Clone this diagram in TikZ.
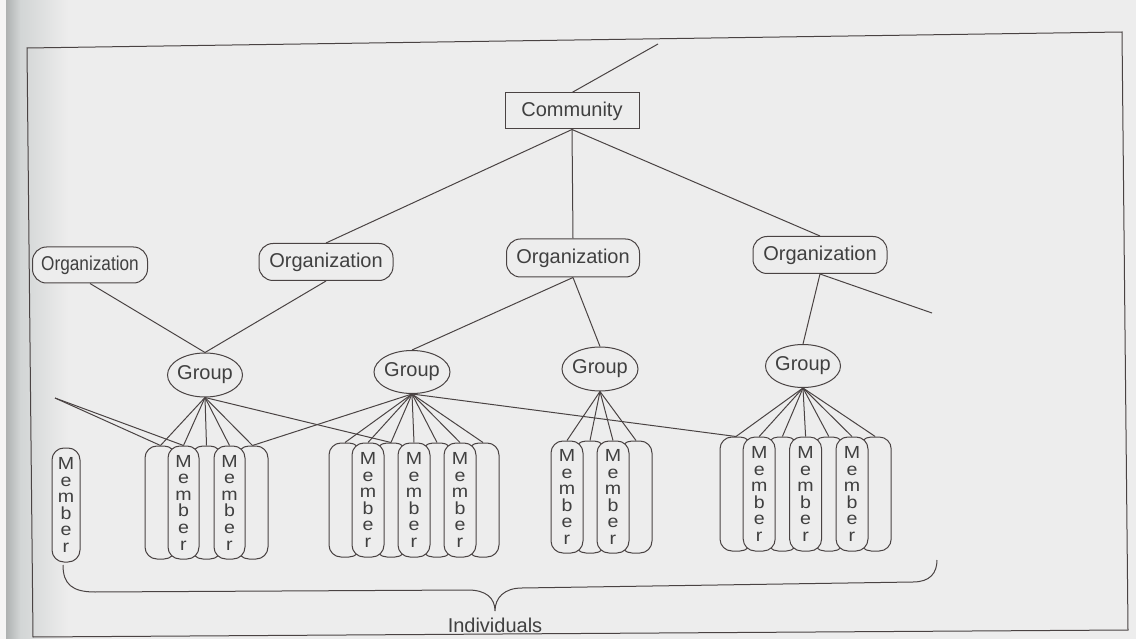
\documentclass[tikz,border=0pt]{standalone}
\usepackage{fontspec}
\setmainfont{Liberation Sans}
\usepackage{graphicx}
\usetikzlibrary{shapes.geometric}
\definecolor{paper}{HTML}{EDEDED}
\definecolor{paperedge}{HTML}{F5F5F5}
\definecolor{gutter}{HTML}{AEB2B2}
\definecolor{gutterb}{HTML}{D2D5D5}
\definecolor{ink}{HTML}{4A4343}
\definecolor{txt}{HTML}{404040}
\pgfdeclarelayer{paperlayer}
\pgfdeclarelayer{background}
\pgfsetlayers{paperlayer,background,main}
% letters of a member box, slightly widened, stacked one per line
\newcommand\wl[1]{\scalebox{1.12}[1]{#1}}
\newcommand\mbrtext{\wl{M}\\\wl{e}\\\wl{m}\\\wl{b}\\\wl{e}\\\wl{r}}
\begin{document}
\begin{tikzpicture}[x=1pt,y=-1pt,
  every node/.style={text=txt},
  conn/.style={draw=ink, line width=1pt},
  labelfont/.style={font=\fontsize{20}{24}\selectfont},
  commbox/.style={draw=ink, line width=1pt, fill=paper, minimum width=134pt,
    minimum height=36pt, inner sep=0pt, labelfont},
  orgbox/.style={draw=ink, line width=1pt, fill=paper, rounded corners=14pt,
    minimum width=134pt, minimum height=37pt, inner sep=0pt, labelfont},
  groupell/.style={ellipse, draw=ink, line width=1pt, fill=paper,
    minimum width=75pt, minimum height=44pt, inner sep=0pt, labelfont},
  memberbox/.style={draw=ink, line width=1pt, fill=paper, rounded corners=12pt,
    minimum width=32pt, minimum height=113pt, inner sep=0pt, align=center,
    font=\fontsize{17.5}{16.6}\selectfont},
]
% paper and gutter shadow
\begin{pgfonlayer}{paperlayer}
  \fill[paper] (0,0) rectangle (1136,639);
  \fill[paperedge] (0,0) rectangle (6,639);
  \shade[left color=gutter, right color=gutterb] (6,0) rectangle (20,639);
  \shade[left color=gutterb, right color=paper] (20,0) rectangle (68,639);
  \draw[ink, line width=1pt] (27,48) -- (1122,32) -- (1128,630) -- (33,637) -- cycle;
\end{pgfonlayer}

% community and organizations
\node[commbox] (comm) at (572,111) {Community};
\node[orgbox, minimum width=115pt, minimum height=36pt] (org1) at (90,265) {\scalebox{0.86}[1]{Organization}};
\node[orgbox] (org2) at (326,262) {Organization};
\node[orgbox, minimum width=133pt, minimum height=38pt] (org3) at (573,258) {Organization};
\node[orgbox] (org4) at (820,255) {Organization};

% groups
\node[groupell] (g1) at (205,375) {\makebox[0pt]{Group}};
\node[groupell, minimum width=76pt, minimum height=43pt] (g2) at (412,372) {\makebox[0pt]{Group}};
\node[groupell, minimum width=76pt] (g3) at (600,369) {\makebox[0pt]{Group}};
\node[groupell, minimum height=43pt] (g4) at (803,366) {\makebox[0pt]{Group}};

% free ends
\coordinate (upper) at (658,44);
\coordinate (orgout) at (932,313);
\coordinate (leftin) at (55,398);

% lone member
\node[memberbox, minimum width=28pt, minimum height=114pt] (s0) at (66,505) {\mbrtext};

% member clusters: plain boxes behind, lettered boxes in front
\foreach \k in {0,2,4}
  \node[memberbox, minimum width=31pt] (a\k) at ({160.5+23*\k},502.5) {};
\foreach \k in {1,3}
  \node[memberbox, minimum width=31pt] (a\k) at ({160.5+23*\k},502.5) {\mbrtext};

\foreach \k in {0,2,4,6}
  \node[memberbox, minimum height=114pt] (b\k) at ({345+23*\k},500) {};
\foreach \k in {1,3,5}
  \node[memberbox, minimum height=114pt] (b\k) at ({345+23*\k},500) {\mbrtext};

\foreach \k in {1,3}
  \node[memberbox, minimum height=112pt] (c\k) at ({567+23*\k},497) {};
\foreach \k in {0,2}
  \node[memberbox, minimum height=112pt] (c\k) at ({567+23*\k},497) {\mbrtext};

\foreach \k in {0,2,4,6}
  \node[memberbox, minimum height=114pt] (d\k) at ({736+23.2*\k},494) {};
\foreach \k in {1,3,5}
  \node[memberbox, minimum height=114pt] (d\k) at ({736+23.2*\k},494) {\mbrtext};

% connectors
\begin{pgfonlayer}{background}
  \draw[conn] (comm.north) -- (upper);
  \foreach \o in {org2,org3,org4} \draw[conn] (comm.south) -- (\o.north);
  \draw[conn] (org1.south) -- (g1.north);
  \draw[conn] (org2.south) -- (g1.north);
  \draw[conn] (org3.south) -- (g2.north);
  \draw[conn] (org3.south) -- (g3.north);
  \draw[conn] (org4.south) -- (g4.north);
  \draw[conn] (org4.south) -- (orgout);
  \foreach \k in {0,...,4} \draw[conn] (g1.south) -- (a\k.north);
  \draw[conn] (g1.south) -- (b2.north);
  \draw[conn] (leftin) -- (a0.north);
  \draw[conn] (leftin) -- (a1.north);
  \foreach \k in {0,...,6} \draw[conn] (g2.south) -- (b\k.north);
  \draw[conn] (g2.south) -- (a4.north);
  \draw[conn] (g2.south) -- (d0.north);
  \foreach \k in {0,...,3} \draw[conn] (g3.south) -- (c\k.north);
  \foreach \k in {0,...,6} \draw[conn] (g4.south) -- (d\k.north);
\end{pgfonlayer}

% brace over the individuals
\draw[ink, line width=1pt] (63,565) .. controls (63,584) and (72,592) .. (95,592)
  -- (468,590) .. controls (486,590) and (495,598) .. (495,611)
  .. controls (495,598) and (504,588) .. (522,588)
  -- (913,582) .. controls (930,582) and (937,573) .. (937,560);
\node[labelfont] (indiv) at (495,625) {Individuals};
\end{tikzpicture}
\end{document}
